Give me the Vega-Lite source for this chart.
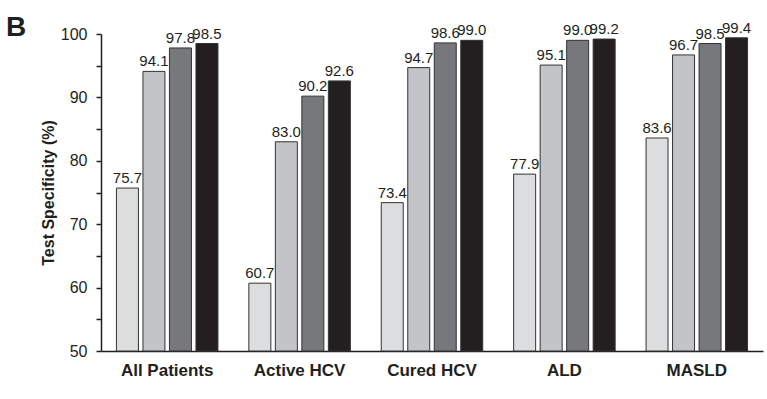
{
  "$schema": "https://vega.github.io/schema/vega-lite/v6.json",
  "width": 662,
  "height": 317,
  "autosize": {"type": "none"},
  "padding": {"left": 101, "top": 34, "right": 4, "bottom": 48},
  "background": "white",
  "config": {"view": {"stroke": null}, "font": "Liberation Sans"},
  "title": {"text": "B", "anchor": "start", "frame": "group", "dx": -95, "offset": -43, "baseline": "alphabetic", "fontSize": 28, "fontWeight": "bold", "color": "#231f20", "font": "Liberation Sans"},
  "data": {"values": [
    {"group": "All Patients", "series": "A", "value": 75.7},
    {"group": "All Patients", "series": "B", "value": 94.1},
    {"group": "All Patients", "series": "C", "value": 97.8},
    {"group": "All Patients", "series": "D", "value": 98.5},
    {"group": "Active HCV", "series": "A", "value": 60.7},
    {"group": "Active HCV", "series": "B", "value": 83.0},
    {"group": "Active HCV", "series": "C", "value": 90.2},
    {"group": "Active HCV", "series": "D", "value": 92.6},
    {"group": "Cured HCV", "series": "A", "value": 73.4},
    {"group": "Cured HCV", "series": "B", "value": 94.7},
    {"group": "Cured HCV", "series": "C", "value": 98.6},
    {"group": "Cured HCV", "series": "D", "value": 99.0},
    {"group": "ALD", "series": "A", "value": 77.9},
    {"group": "ALD", "series": "B", "value": 95.1},
    {"group": "ALD", "series": "C", "value": 99.0},
    {"group": "ALD", "series": "D", "value": 99.2},
    {"group": "MASLD", "series": "A", "value": 83.6},
    {"group": "MASLD", "series": "B", "value": 96.7},
    {"group": "MASLD", "series": "C", "value": 98.5},
    {"group": "MASLD", "series": "D", "value": 99.4}
  ]},
  "encoding": {
    "x": {"field": "group", "type": "nominal", "sort": null,
      "scale": {"paddingInner": 0, "paddingOuter": 0},
      "axis": {"title": null, "labelAngle": 0, "ticks": false, "domainColor": "#231f20", "domainWidth": 1.5, "labelFont": "Liberation Sans", "labelFontSize": 17, "labelFontWeight": "bold", "labelColor": "#231f20", "labelPadding": 11}},
    "xOffset": {"field": "series", "type": "nominal", "sort": null,
      "scale": {"paddingInner": 0.17, "paddingOuter": 0.583}},
    "y": {"field": "value", "type": "quantitative",
      "scale": {"domain": [50, 100], "zero": false, "nice": false, "clamp": true},
      "axis": {"title": "Test Specificity (%)", "titleFont": "Liberation Sans", "titleFontSize": 16, "titleFontWeight": "bold", "titleColor": "#231f20", "titlePadding": 4,
        "values": [50, 55, 60, 65, 70, 75, 80, 85, 90, 95, 100],
        "labelExpr": "datum.value % 10 == 0 ? datum.label : ''",
        "grid": false, "tickSize": 5, "tickColor": "#231f20", "tickWidth": 1.5, "domainColor": "#231f20", "domainWidth": 1.5,
        "labelFont": "Liberation Sans", "labelFontSize": 16, "labelColor": "#231f20", "labelPadding": 9}}
  },
  "layer": [
    {"mark": {"type": "bar", "stroke": "#333333", "strokeWidth": 1},
      "encoding": {"color": {"field": "series", "type": "nominal", "legend": null,
        "scale": {"domain": ["A", "B", "C", "D"], "range": ["#dcdddf", "#c3c4c7", "#77787b", "#231f20"]}}}},
    {"mark": {"type": "text", "baseline": "alphabetic", "dy": -5, "fontSize": 15, "font": "Liberation Sans", "color": "#231f20"},
      "encoding": {"text": {"field": "value", "type": "quantitative", "format": ".1f"}}}
  ]
}
